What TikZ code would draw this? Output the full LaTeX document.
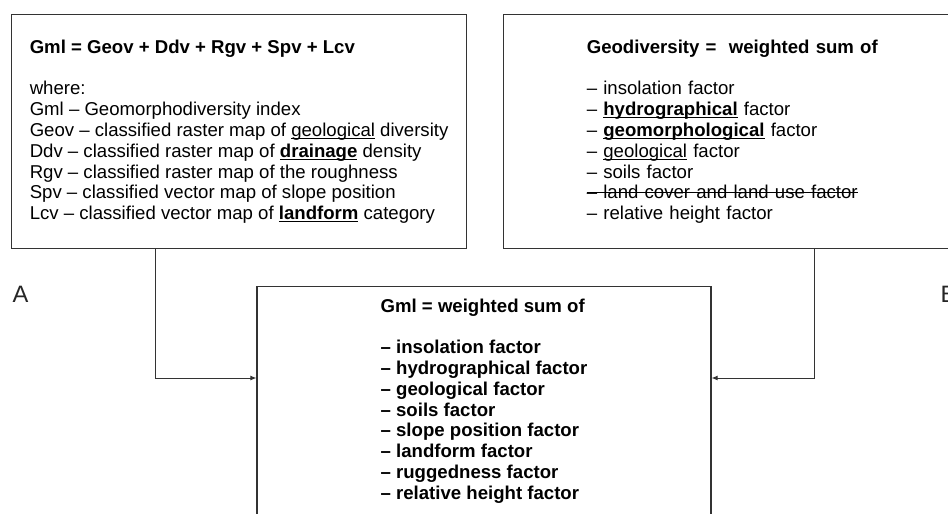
\documentclass[tikz,border=0pt]{standalone}
\usepackage{fontspec}
\setmainfont{Liberation Sans}
\usepackage{tikz}
\usetikzlibrary{arrows.meta, positioning}
\newlength{\linewd}
\newcommand{\uword}[1]{\leavevmode\settowidth{\linewd}{#1}\rlap{\rule[-2.6pt]{\linewd}{1pt}}#1}
\newcommand{\sword}[1]{\leavevmode\settowidth{\linewd}{#1}\rlap{\rule[5.6pt]{\linewd}{1pt}}#1}
\newcommand{\panelfont}{\fontsize{18.6}{20.8}\selectfont}
\newcommand{\letterfont}{\fontsize{23.7}{26}\selectfont}
\tikzset{panel/.style = {rectangle, draw=black!80, line width=1.2pt, align=left, font=\panelfont, text=black}}
\tikzset{arrow/.style = {draw=black!80, line width=0.9pt, -{Latex[length=6pt,width=5pt]}}}
\tikzset{letter/.style = {font=\letterfont, inner sep=0pt, text=black!85}}

\begin{document}
\begin{tikzpicture}[x=1pt, y=1pt]
\useasboundingbox (0,0) rectangle (948,-514);
\clip (0,0) rectangle (948,-514);

\node [panel, minimum width=455pt, minimum height=234pt, anchor=north west] (gml) at (11,-14)
  {\textbf{Gml = Geov + Ddv + Rgv + Spv + Lcv}\\[20.8pt]
   where:\\
   Gml -- Geomorphodiversity index\\
   Geov -- classified raster map of \uword{geological} diversity\\
   Ddv -- classified raster map of \uword{\textbf{drainage}} density\\
   Rgv -- classified raster map of the roughness\\
   Spv -- classified vector map of slope position\\
   Lcv -- classified vector map of \uword{\textbf{landform}} category};
\node [panel, minimum width=466pt, minimum height=234pt, text width=300pt, right=36pt of gml] (geo)
  {\textbf{Geodiversity = \ weighted sum of}\\[20.8pt]
   -- insolation factor\\
   -- \uword{\textbf{hydrographical}} factor\\
   -- \uword{\textbf{geomorphological}} factor\\
   -- \uword{geological} factor\\
   -- soils factor\\
   \sword{-- land cover and land use factor}\\
   -- relative height factor};
\node [panel, minimum width=454pt, inner ysep=12pt, text depth=30pt, anchor=north, font=\panelfont\bfseries] (gmlsum) at (484,-286)
  {Gml = weighted sum of\\[20.8pt]
   -- insolation factor\\
   -- hydrographical factor\\
   -- geological factor\\
   -- soils factor\\
   -- slope position factor\\
   -- landform factor\\
   -- ruggedness factor\\
   -- relative height factor};
\node [letter] (labA) at (20.5,-294.5) {A};
\node [letter, anchor=west] (labB) at (940.5,-294.5) {B};

\draw [arrow] ([xshift=144pt]gml.south west) |- ([yshift=-92pt]gmlsum.north west);
\draw [arrow] ([xshift=311pt]geo.south west) |- ([yshift=-92pt]gmlsum.north east);
\end{tikzpicture}
\end{document}
